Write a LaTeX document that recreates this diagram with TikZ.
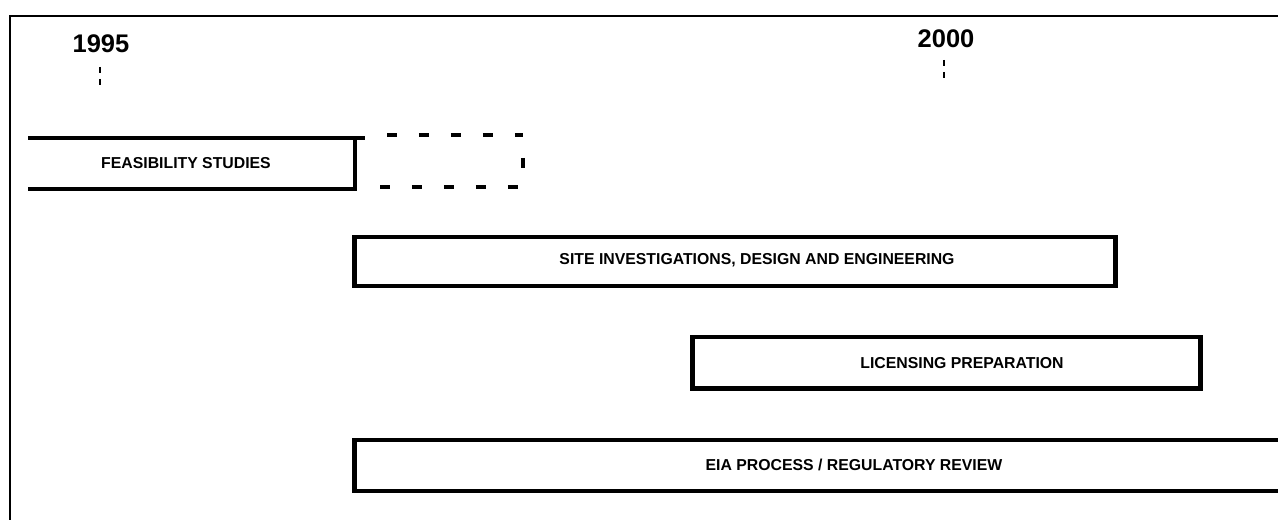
\documentclass[tikz,border=0pt]{standalone}
\usepackage{fontspec}
\setmainfont{Liberation Sans}
\usetikzlibrary{positioning}

\begin{document}
\begin{tikzpicture}[x=0.02cm, y=-0.02cm,
  bar/.style={line width=2.8pt},
  planned/.style={line width=2.3pt, dash pattern=on 5.7pt off 12.5pt},
  tick/.style={line width=1.1pt, dash pattern=on 3.4pt off 3.4pt},
  lbl/.style={font=\bfseries\fontsize{9}{10}\selectfont, anchor=base, inner sep=0pt},
  yr/.style={font=\bfseries\fontsize{14.5}{16}\selectfont, anchor=base, inner sep=0pt}]
\useasboundingbox (0,0) rectangle (1278,520);

% Frame
\draw[line width=1.4pt] (10,520) -- (10,16) -- (1278,16);

% Years with ticks
\node[yr] (y1995) at (101,53) {1995};
\node[yr] (y2000) at (946,48) {2000};
\draw[tick] (100,67) -- (100,87);
\draw[tick] (944,60) -- (944,80);

% Feasibility studies (open at the left)
\draw[bar] (28,138) -- (365,138);
\draw[bar] (28,189) -- (355,189) -- (355,138);
\node[lbl] (feas) at (186,169) {FEASIBILITY STUDIES};

% Possible extension of the studies
\draw[planned] (387,135) -- (523,135);
\draw[planned] (380,187) -- (518,187);
\draw[line width=2.3pt] (523,158) -- (523,168);

% Site investigations
\draw[bar] (354.5,237) rectangle (1115.5,286);
\node[lbl] (site) at (757,265) {SITE INVESTIGATIONS, DESIGN AND ENGINEERING};

% Licensing
\draw[bar] (692.5,337) rectangle (1200.5,388.5);
\node[lbl] (lic) at (962,368) {LICENSING PREPARATION};

% EIA (runs on past the right edge)
\draw[bar] (1290,440) -- (354.5,440) -- (354.5,491) -- (1290,491);
\node[lbl] (eia) at (854,470) {EIA PROCESS / REGULATORY REVIEW};
\end{tikzpicture}
\end{document}
